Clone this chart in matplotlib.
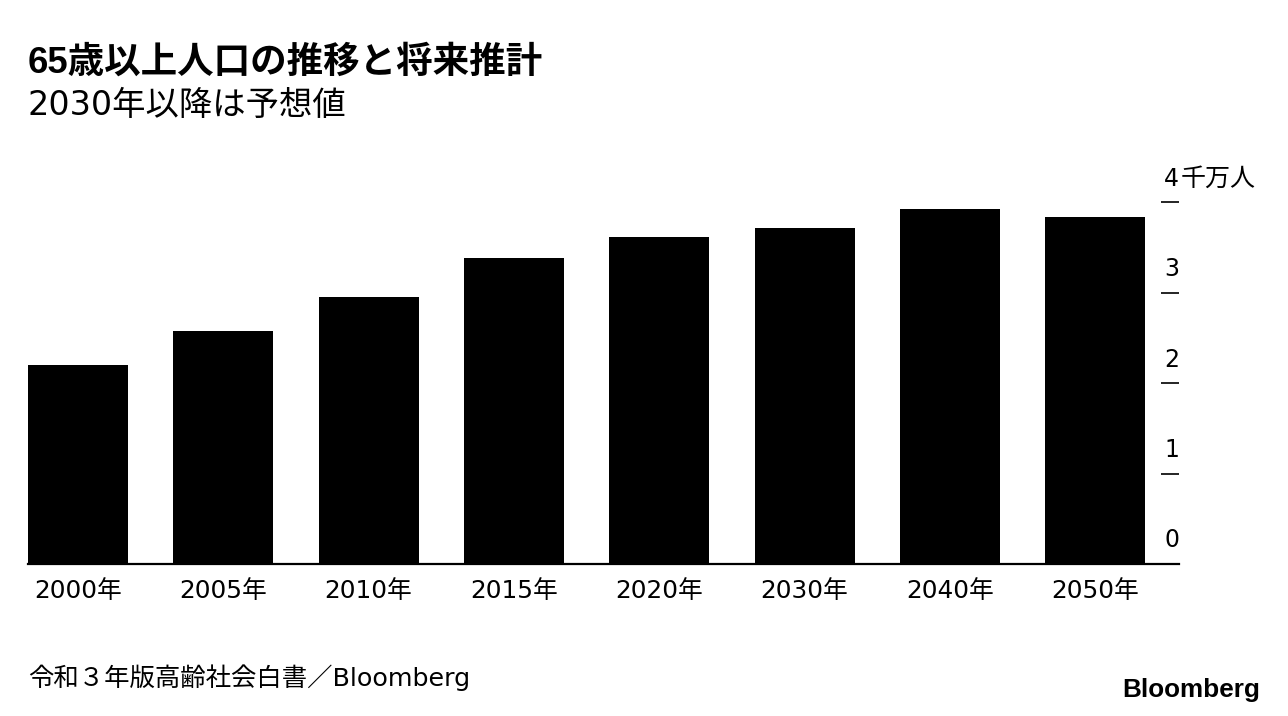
import matplotlib
matplotlib.use("Agg")
import matplotlib.pyplot as plt

plt.rcParams['font.family'] = ['DejaVu Sans', 'Noto Sans CJK JP']

categories = ["2000年", "2005年", "2010年", "2015年", "2020年", "2030年", "2040年", "2050年"]
values = [2.204, 2.576, 2.948, 3.387, 3.619, 3.716, 3.921, 3.841]  # 千万人
yticks = [1, 2, 3, 4]
ylabels = ["0", "1", "2", "3", "4"]

W, H = 1288, 716
fig = plt.figure(figsize=(W / 100, H / 100), dpi=100)

left_px, right_px = 28, 1179
bottom_px, top_px = 564, 202.3
ax = fig.add_axes([left_px / W, (H - bottom_px) / H, (right_px - left_px) / W, (bottom_px - top_px) / H])

width = 0.688
x = list(range(len(categories)))
ax.bar(x, values, width=width, color="black", zorder=2)
ax.set_xlim(-width / 2, 7.577)
ax.set_ylim(0, 4)

for s in ["top", "left", "right"]:
    ax.spines[s].set_visible(False)
ax.spines["bottom"].set_linewidth(1.6)
ax.spines["bottom"].set_color("black")

ax.set_xticks(x)
ax.set_xticklabels(categories, fontsize=17.8)
ax.tick_params(axis="x", length=0, pad=11)

ax.yaxis.tick_right()
ax.set_yticks(yticks)
ax.set_yticklabels([])
ax.tick_params(axis="y", direction="in", length=13, width=1.2, color="black")

for i, lab in enumerate(ylabels):
    ax.annotate(lab, xy=(1, i), xycoords=("axes fraction", "data"),
                xytext=(0, 17), textcoords="offset points",
                ha="right", va="center", fontsize=17, annotation_clip=False)
ax.annotate("千万人", xy=(1, 4), xycoords=("axes fraction", "data"),
            xytext=(1.5, 17), textcoords="offset points",
            ha="left", va="center", fontsize=18, annotation_clip=False)

fig.text(28 / W, 1 - 63 / H, "65歳以上人口の推移と将来推計", fontsize=26.3,
         fontweight="bold", ha="left", va="center",
         family=['Liberation Sans', 'Noto Sans CJK JP'])
fig.text(28 / W, 1 - 105 / H, "2030年以降は予想値", fontsize=24,
         ha="left", va="center")
fig.text(28 / W, 1 - 678 / H, "令和３年版高齢社会白書／Bloomberg", fontsize=18.3,
         ha="left", va="center")
fig.text(1260 / W, 1 - 690 / H, "Bloomberg", fontsize=18.8, fontweight="bold",
         ha="right", va="center", family=['Liberation Sans'])

fig.savefig("out.png", dpi=100)
